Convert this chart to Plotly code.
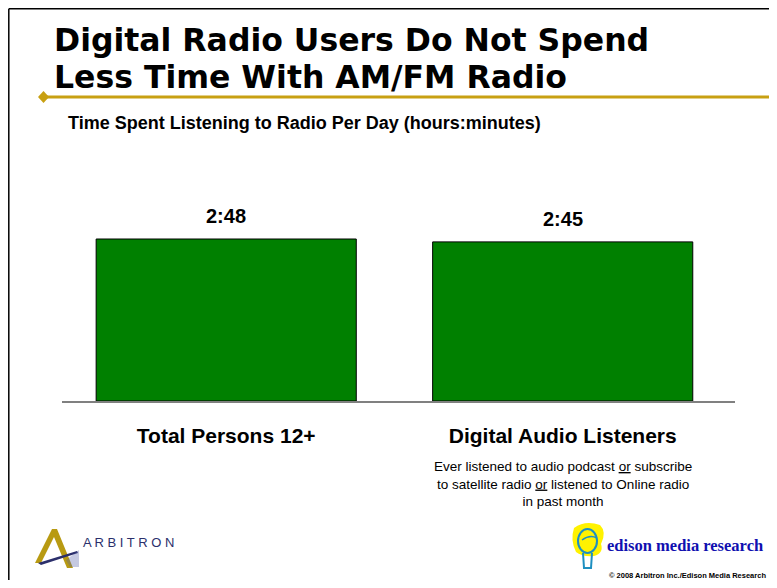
import plotly.graph_objects as go

# ---- data ----
categories = ["Total Persons 12+", "Digital Audio Listeners"]
minutes = [168, 165]  # 2:48 and 2:45
value_labels = [f"{m // 60}:{m % 60:02d}" for m in minutes]
note_lines = ["Ever listened to audio podcast <u>or</u> subscribe",
              "to satellite radio <u>or</u> listened to Online radio",
              "in past month"]

# the page body has an 8px margin, so the figure starts at (8, 8) in the screenshot
OFF = 8
W, H = 777 - 2 * OFF, 588 - 2 * OFF
def px(x): return (x - OFF) / W
def py(y): return 1 - (y - OFF) / H

fig = go.Figure()
fig.add_trace(go.Bar(
    x=categories, y=minutes,
    marker=dict(color="#008000", line=dict(color="#000000", width=1)),
    width=0.773, hoverinfo="skip",
))

y_top_px, y_bot_px = 200, 401
R = minutes[0] * (y_bot_px - y_top_px) / 162.0

annotations = []
for c, m, lab in zip(categories, minutes, value_labels):
    annotations.append(dict(x=c, y=m, xref="x", yref="y", text=f"<b>{lab}</b>",
                            showarrow=False, yanchor="middle", yshift=23,
                            font=dict(family="Liberation Sans, Arial", size=20, color="#000")))
annotations.append(dict(x=categories[1], y=0, xref="x", yref="y", text="<br>".join(note_lines),
                        showarrow=False, yanchor="top", yshift=-56, align="center",
                        font=dict(family="Liberation Sans, Arial", size=13.5, color="#000")))

# title & subtitle
annotations += [
    dict(x=px(52), y=py(40.5), xref="paper", yref="paper", xanchor="left", yanchor="middle",
         text="<b>Digital Radio Users Do Not Spend</b>", showarrow=False,
         font=dict(family="DejaVu Sans", size=31.5, color="#000")),
    dict(x=px(52), y=py(76.5), xref="paper", yref="paper", xanchor="left", yanchor="middle",
         text="<b>Less Time With AM/FM Radio</b>", showarrow=False,
         font=dict(family="DejaVu Sans", size=31.5, color="#000")),
    dict(x=px(66), y=py(123), xref="paper", yref="paper", xanchor="left", yanchor="middle",
         text="<b>Time Spent Listening to Radio Per Day (hours:minutes)</b>", showarrow=False,
         font=dict(family="Liberation Sans, Arial", size=18, color="#000")),
    # logos text
    dict(x=px(81), y=py(542), xref="paper", yref="paper", xanchor="left", yanchor="middle",
         text="A R B I T R O N", showarrow=False,
         font=dict(family="Liberation Sans, Arial", size=13, color="#2B2F6B")),
    dict(x=px(605), y=py(545), xref="paper", yref="paper", xanchor="left", yanchor="middle",
         text="<b>edison media research</b>", showarrow=False,
         font=dict(family="Liberation Serif, Times New Roman", size=16.5, color="#1010B0")),
    dict(x=px(768), y=py(575), xref="paper", yref="paper", xanchor="right", yanchor="middle",
         text="<b>© 2008 Arbitron Inc./Edison Media Research</b>", showarrow=False,
         font=dict(family="Liberation Sans, Arial", size=7.5, color="#000")),
]

shapes = [
    # slide frame
    dict(type="line", xref="paper", yref="paper", x0=px(8.8), x1=px(8.8), y0=py(8.8), y1=0,
         line=dict(color="#000", width=1.5)),
    dict(type="line", xref="paper", yref="paper", x0=px(8.8), x1=1, y0=py(8.8), y1=py(8.8),
         line=dict(color="#000", width=1.5)),
    # gold rule with diamond
    dict(type="line", xref="paper", yref="paper", x0=px(44), x1=1, y0=py(97), y1=py(97),
         line=dict(color="#C8A012", width=3)),
    dict(type="path", xref="paper", yref="paper",
         path=f"M {px(38)},{py(97)} L {px(43.5)},{py(91)} L {px(49)},{py(97)} L {px(43.5)},{py(103)} Z",
         fillcolor="#C8A012", line=dict(width=0)),
    # Arbitron "A" mark
    dict(type="path", xref="paper", yref="paper",
         path=(f"M {px(35)},{py(563)} L {px(52)},{py(529)} L {px(57)},{py(529)} L {px(73)},{py(568)} "
               f"L {px(67)},{py(568)} L {px(54)},{py(537)} L {px(41)},{py(563)} Z"),
         fillcolor="#B89A12", line=dict(width=0)),
    dict(type="path", xref="paper", yref="paper",
         path=(f"M {px(38)},{py(563)} L {px(77)},{py(551)} L {px(78)},{py(553)} L {px(41)},{py(565)} Z"),
         fillcolor="#2B2F6B", line=dict(width=0)),
    dict(type="path", xref="paper", yref="paper",
         path=(f"M {px(66)},{py(560)} L {px(79)},{py(550)} L {px(79)},{py(567)} L {px(70)},{py(567)} Z"),
         fillcolor="rgba(90,100,170,0.35)", line=dict(width=0)),
    # Edison bulb: yellow blob
    dict(type="path", xref="paper", yref="paper",
         path=(f"M {px(574)},{py(528)} Q {px(585)},{py(520)} {px(600)},{py(525)} "
               f"Q {px(607)},{py(532)} {px(601)},{py(544)} Q {px(604)},{py(553)} {px(594)},{py(556)} "
               f"Q {px(582)},{py(557)} {px(576)},{py(552)} Q {px(570)},{py(540)} {px(574)},{py(528)} Z"),
         fillcolor="#FFF200", line=dict(width=0)),
    dict(type="circle", xref="paper", yref="paper",
         x0=px(578), x1=px(597), y0=py(553), y1=py(529),
         line=dict(color="#1E8FC0", width=2)),
    dict(type="path", xref="paper", yref="paper",
         path=(f"M {px(583)},{py(553)} L {px(584)},{py(568)} L {px(591)},{py(568)} L {px(592)},{py(553)}"),
         line=dict(color="#1E8FC0", width=2)),
    dict(type="path", xref="paper", yref="paper",
         path=(f"M {px(582)},{py(540)} Q {px(590)},{py(534)} {px(597)},{py(538)}"),
         line=dict(color="#1E8FC0", width=1.5)),
]

fig.update_layout(
    width=W, height=H, margin=dict(l=0, r=0, t=0, b=0),
    paper_bgcolor="white", plot_bgcolor="white", showlegend=False,
    annotations=annotations, shapes=shapes,
    xaxis=dict(type="category", domain=[px(62), px(735)], range=[-0.488, 1.512],
               showline=True, linecolor="#808080", linewidth=2, ticks="",
               showgrid=False, zeroline=False,
               tickvals=categories, ticktext=[f"<b>{c}</b>" for c in categories],
               ticklabelstandoff=15,
               tickfont=dict(family="Liberation Sans, Arial", size=21, color="#000")),
    yaxis=dict(domain=[py(y_bot_px), py(y_top_px)], range=[0, R], visible=False,
               showgrid=False, zeroline=False),
)

fig.write_html("out.html")
